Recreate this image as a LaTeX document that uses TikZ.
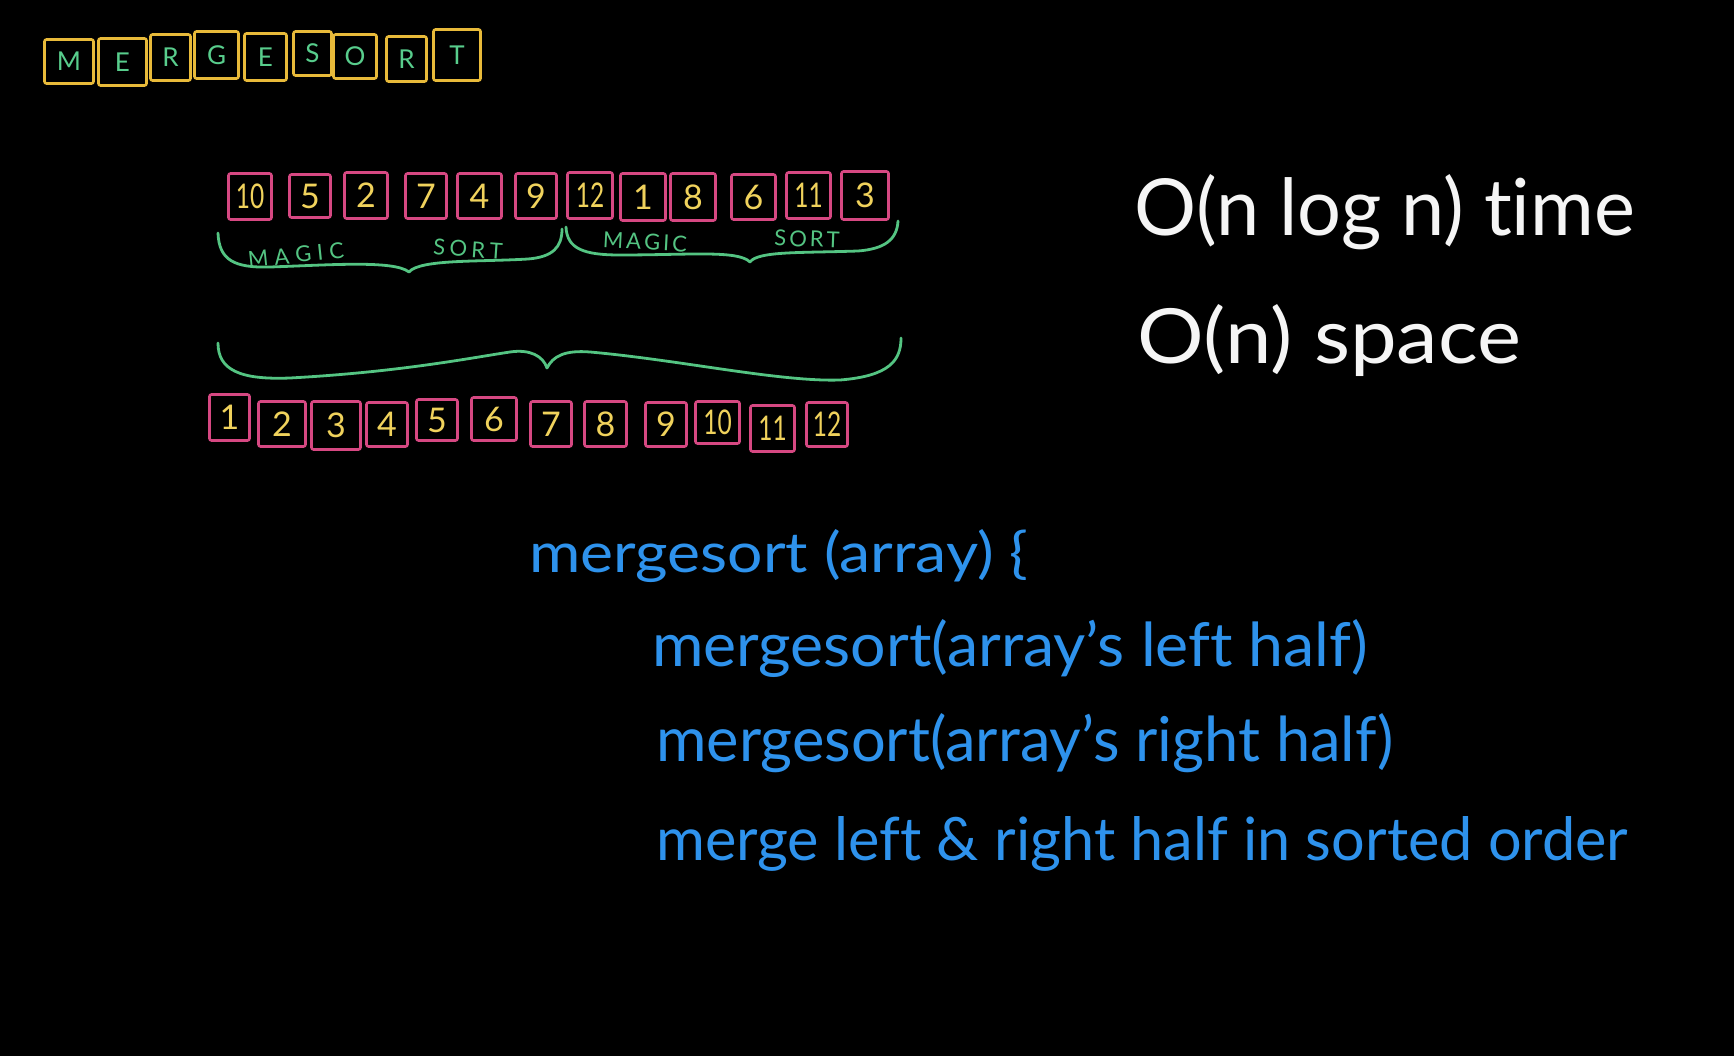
\documentclass[tikz,border=0pt]{standalone}
\usepackage{fontspec}
\setmainfont{Lato}[Ligatures={TeX,NoCommon}]
\usepackage{graphicx}
\definecolor{boxyellow}{RGB}{232,186,58}
\definecolor{lettergreen}{RGB}{88,205,140}
\definecolor{bracegreen}{RGB}{84,196,130}
\definecolor{boxpink}{RGB}{214,72,130}
\definecolor{digityellow}{RGB}{240,210,92}
\definecolor{codeblue}{RGB}{46,146,236}
\definecolor{chalkwhite}{RGB}{245,245,245}
\newcommand\lsp[1]{\kern#1pt\relax}
\newcommand\fitbox[3]{\resizebox{#1pt}{#2pt}{#3}}
\newcommand\nar[1]{\scalebox{0.72}[1]{#1}}
\tikzset{
  tbox/.style={draw=boxyellow, line width=2.6pt, rounded corners=2pt, inner sep=0pt,
    text=lettergreen, font=\fontsize{26}{30}\selectfont},
  nbox/.style={draw=boxpink, line width=2.6pt, rounded corners=2pt, inner sep=0pt,
    text=digityellow, font=\fontsize{34}{38}\selectfont},
  bracestroke/.style={draw=bracegreen, line width=2.8pt, line cap=round, line join=round},
  lbl/.style={text=bracegreen, font=\fontsize{22}{24}\selectfont, inner sep=0pt},
  bigtext/.style={text=chalkwhite, inner sep=0pt, anchor=base west},
  codetext/.style={text=codeblue, inner sep=0pt, anchor=base west}
}
\begin{document}
\begin{tikzpicture}[x=1pt,y=-1pt]
\fill[black] (0,0) rectangle (1734,1056);
\useasboundingbox (0,0) rectangle (1734,1056);

% Title MERGESORT
\node[tbox, minimum width=49pt, minimum height=44pt] (m1) at (69,61.5) {M};
\node[tbox, minimum width=48pt, minimum height=47pt] (m2) at (122.5,62) {E};
\node[tbox, minimum width=40pt, minimum height=46pt] (m3) at (170.5,57.5) {R};
\node[tbox, minimum width=44pt, minimum height=47pt] (m4) at (216.5,55) {G};
\node[tbox, minimum width=42pt, minimum height=47pt] (m5) at (265.5,57) {E};
\node[tbox, minimum width=38pt, minimum height=44pt] (m6) at (312.5,53.5) {S};
\node[tbox, minimum width=43pt, minimum height=44pt] (m7) at (355,56.5) {O};
\node[tbox, minimum width=40pt, minimum height=45pt] (m8) at (406.5,59) {R};
\node[tbox, minimum width=47pt, minimum height=51pt] (m9) at (457,55) {T};

% Unsorted array
\node[nbox, minimum width=43pt, minimum height=46pt] (u1) at (250,196.5) {\nar{10}};
\node[nbox, minimum width=41pt, minimum height=43pt] (u2) at (310,196) {5};
\node[nbox, minimum width=43pt, minimum height=46pt] (u3) at (366,195.5) {2};
\node[nbox, minimum width=41pt, minimum height=45pt] (u4) at (426,196) {7};
\node[nbox, minimum width=44pt, minimum height=45pt] (u5) at (479.5,196) {4};
\node[nbox, minimum width=41pt, minimum height=45pt] (u6) at (536,196) {9};
\node[nbox, minimum width=45pt, minimum height=46pt] (u7) at (590,195.5) {\nar{12}};
\node[nbox, minimum width=45pt, minimum height=47pt] (u8) at (643,197) {1};
\node[nbox, minimum width=45pt, minimum height=47pt] (u9) at (693,197) {8};
\node[nbox, minimum width=44pt, minimum height=45pt] (u10) at (753.5,197) {6};
\node[nbox, minimum width=44pt, minimum height=46pt] (u11) at (808.5,195.5) {\nar{11}};
\node[nbox, minimum width=47pt, minimum height=48pt] (u12) at (865,195.5) {3};

% small braces
\draw[bracestroke] (218,233) .. controls (219,260) and (234,268) .. (270,267)
  .. controls (330,265) and (394,260) .. (409,272)
  .. controls (420,259) and (480,262) .. (528,259)
  .. controls (553,257) and (562,247) .. (562,229);
\draw[bracestroke] (566,227) .. controls (567,249) and (584,255) .. (620,255)
  .. controls (690,255) and (738,250) .. (750,262)
  .. controls (758,251) and (800,253) .. (858,251)
  .. controls (884,249) and (897,240) .. (898,221);
\node[lbl, rotate=6] (l1) at (296,255) {M\lsp{6}A\lsp{6}G\lsp{6}I\lsp{6}C};
\node[lbl, rotate=-4] (l2) at (468,249) {S\lsp{4.3}O\lsp{4.3}R\lsp{4.3}T};
\node[lbl, rotate=-3] (l3) at (645,242) {M\lsp{3}A\lsp{3}G\lsp{3}I\lsp{3}C};
\node[lbl, rotate=-2] (l4) at (807,239) {S\lsp{3}O\lsp{3}R\lsp{3}T};

% big brace
\draw[bracestroke] (218,343) .. controls (218,370) and (240,380) .. (290,378)
  .. controls (400,372) and (470,358) .. (510,352)
  .. controls (530,349) and (543,356) .. (547,368)
  .. controls (553,356) and (565,350) .. (590,352)
  .. controls (680,360) and (780,382) .. (840,380)
  .. controls (890,376) and (901,360) .. (901,338);

% Sorted array
\node[nbox, minimum width=40pt, minimum height=46pt] (s1) at (229.5,417.5) {1};
\node[nbox, minimum width=47pt, minimum height=45pt] (s2) at (282,424) {2};
\node[nbox, minimum width=49pt, minimum height=48pt] (s3) at (336,425.5) {3};
\node[nbox, minimum width=41pt, minimum height=44pt] (s4) at (387,424.5) {4};
\node[nbox, minimum width=41pt, minimum height=41pt] (s5) at (437,420) {5};
\node[nbox, minimum width=45pt, minimum height=43pt] (s6) at (494,419) {6};
\node[nbox, minimum width=41pt, minimum height=45pt] (s7) at (551,424) {7};
\node[nbox, minimum width=42pt, minimum height=45pt] (s8) at (605.5,424) {8};
\node[nbox, minimum width=41pt, minimum height=44pt] (s9) at (666,424.5) {9};
\node[nbox, minimum width=44pt, minimum height=42pt] (s10) at (717.5,422.5) {\nar{10}};
\node[nbox, minimum width=44pt, minimum height=46pt] (s11) at (772.5,428.5) {\nar{11}};
\node[nbox, minimum width=41pt, minimum height=44pt] (s12) at (827,424.5) {\nar{12}};

% complexity
\node[bigtext] (time) at (1134,236) {\fitbox{501}{61}{O(n log n) time}};
\node[bigtext] (space) at (1137,363) {\fitbox{384}{59}{O(n) space}};

% pseudo code
\node[codetext] (c1) at (529,572) {\fitbox{499}{43}{mergesort (array) \{}};
\node[codetext] (c2) at (652,666) {\fitbox{716}{47}{mergesort(array's left half)}};
\node[codetext] (c3) at (656,761) {\fitbox{737}{48}{mergesort(array's right half)}};
\node[codetext] (c4) at (656,860) {\fitbox{972}{44}{merge left \& right half in sorted order}};
\end{tikzpicture}
\end{document}
